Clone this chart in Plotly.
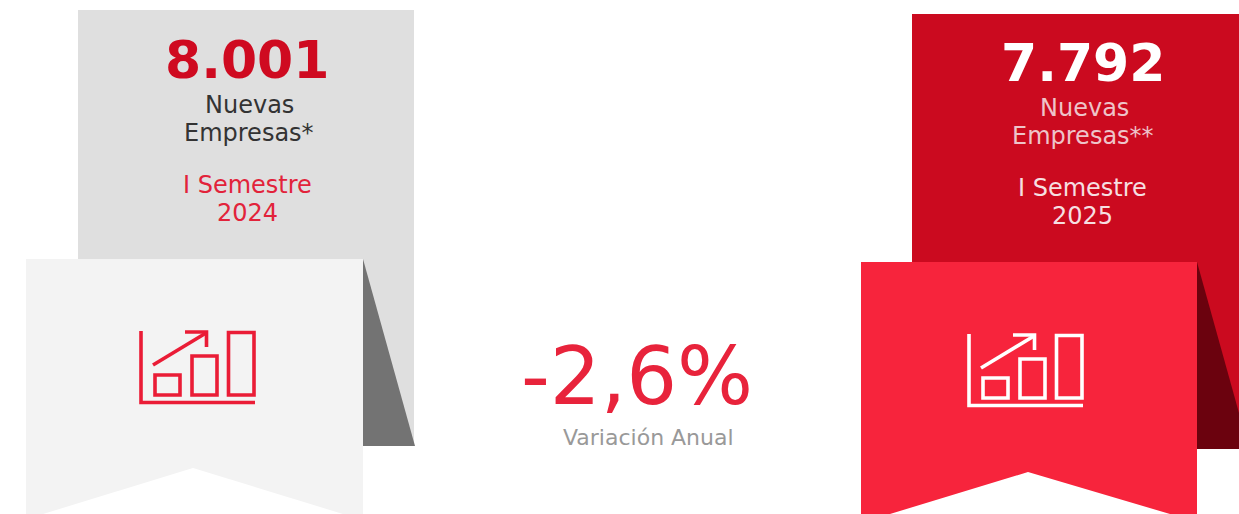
import plotly.graph_objects as go

FONT = "DejaVu Sans"
companies = [8001, 7792]
label_top = ["Nuevas", "Nuevas"]
label_bottom = ["Empresas*", "Empresas**"]
semester = ["I Semestre", "I Semestre"]
years = ["2024", "2025"]
variation = [-2.6]
variation_label = ["Variación Anual"]


def es_int(v):
    return f"{v:,}".replace(",", ".")


def poly(pts, color):
    path = "M " + " L ".join(f"{x},{y}" for x, y in pts) + " Z"
    return dict(type="path", path=path, fillcolor=color, line_width=0, layer="below")


def seg(pts, color, dx, dy, w=3.6):
    path = "M " + " L ".join(f"{x+dx},{y+dy}" for x, y in pts)
    return dict(type="path", path=path, line=dict(color=color, width=w), layer="below")


def rect_o(x0, y0, x1, y1, color, dx, dy):
    return dict(type="rect", x0=x0 + dx, y0=y0 + dy, x1=x1 + dx, y1=y1 + dy,
                line=dict(color=color, width=3.6), fillcolor="rgba(0,0,0,0)", layer="below")


def icon(color, dx, dy):
    return [
        seg([(141, 331), (141, 402.5), (255, 402.5)], color, dx, dy),
        rect_o(155, 375, 180, 395, color, dx, dy),
        rect_o(192, 356, 217, 395, color, dx, dy),
        rect_o(228.5, 332.5, 254, 395, color, dx, dy),
        seg([(153, 365), (206, 333)], color, dx, dy),
        seg([(185, 332), (206.5, 332), (206.5, 347)], color, dx, dy),
    ]


shapes = [
    poly([(78, 10), (414, 10), (414, 446), (78, 446)], "#dfdfdf"),
    poly([(363, 259), (415, 446), (363, 446)], "#737373"),
    poly([(26, 259), (363, 259), (363, 514), (343, 514), (193, 468), (43, 514), (26, 514)], "#f3f3f3"),
    poly([(912, 14), (1239, 14), (1239, 449), (912, 449)], "#cb0a1f"),
    poly([(1197, 262), (1249, 449), (1197, 449)], "#6b020e"),
    poly([(861, 262), (1197, 262), (1197, 514), (1170, 514), (1028, 472), (890, 514), (861, 514)], "#f7243c"),
]
shapes += icon("#ea1c36", 0, 0) + icon("#ffffff", 828, 3)


def note(x, y, text, size, color, bold=False):
    return dict(x=x, y=y, text=text, showarrow=False, xanchor="center", yanchor="middle",
                font=dict(family=FONT, size=size, color=color, weight=700 if bold else 400),
                align="center", xref="x", yref="y")


var_text = f"{variation[0]:.1f}%".replace(".", ",")
annotations = [
    note(247, 60, es_int(companies[0]), 52, "#cf0a20", True),
    note(249, 105, label_top[0], 24, "#333333"),
    note(249, 133, label_bottom[0], 24, "#333333"),
    note(247, 185, semester[0], 24, "#e2233a"),
    note(247, 213, years[0], 24, "#e2233a"),
    note(1083, 63, es_int(companies[1]), 52, "#ffffff", True),
    note(1084, 108, label_top[1], 24, "#eec4c9"),
    note(1083, 136, label_bottom[1], 24, "#eec4c9"),
    note(1082, 188, semester[1], 24, "#f6dfe1"),
    note(1082, 216, years[1], 24, "#f6dfe1"),
    note(637, 376, var_text, 80, "#e8233b"),
    note(648, 437, variation_label[0], 22, "#999999"),
]

fig = go.Figure()
fig.update_layout(
    width=1239, height=514, margin=dict(l=0, r=0, t=0, b=0),
    paper_bgcolor="#ffffff", plot_bgcolor="#ffffff", showlegend=False,
    xaxis=dict(range=[0, 1239], visible=False, fixedrange=True),
    yaxis=dict(range=[514, 0], visible=False, fixedrange=True),
    shapes=shapes, annotations=annotations,
)
fig.write_html(
    "out.html",
    config=dict(displayModeBar=False),
    post_script="document.body.style.margin='0';document.body.style.overflow='hidden';",
)
